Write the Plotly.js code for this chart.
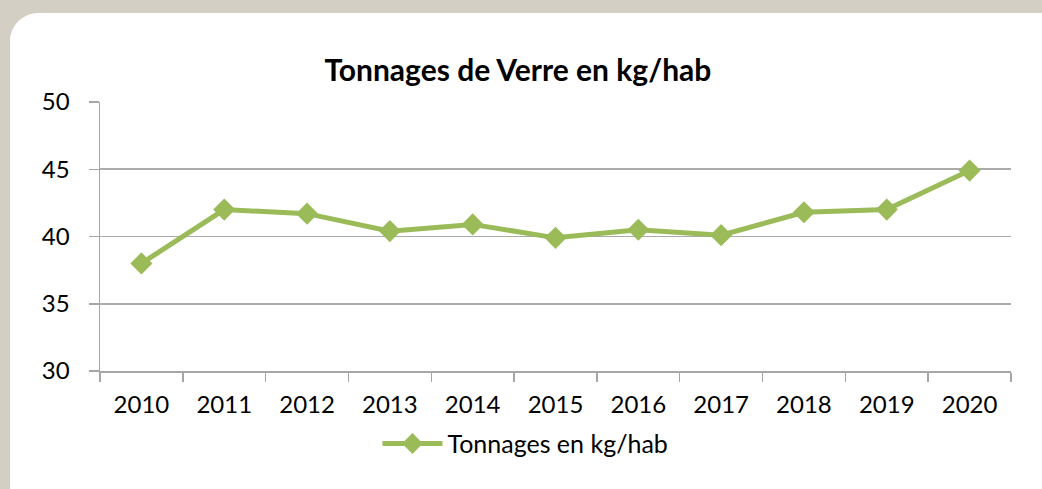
<!DOCTYPE html>
<html>
<head>
<meta charset="utf-8">
<script src="https://cdn.plot.ly/plotly-3.0.1.min.js"></script>
<style>
  html, body { margin:0; padding:0; width:1042px; height:489px; overflow:hidden; background:#d3cfc5; }
  #card { position:absolute; left:10px; top:13px; width:1060px; height:520px; background:#ffffff; border-radius:28px; }
  #chart { position:absolute; left:0; top:0; width:1042px; height:489px; }
</style>
</head>
<body>
<div id="card"></div>
<div id="chart"></div>
<script>
const years = ["2010","2011","2012","2013","2014","2015","2016","2017","2018","2019","2020"];
const tonnages = [38.0, 42.0, 41.7, 40.4, 40.9, 39.9, 40.5, 40.1, 41.8, 42.0, 44.9];
const seriesName = "Tonnages en kg/hab";
const chartTitle = "Tonnages de Verre en kg/hab";

const trace = {
  x: years,
  y: tonnages,
  name: seriesName,
  type: "scatter",
  mode: "lines+markers",
  line: { color: "#9bbb59", width: 5 },
  marker: { symbol: "diamond", size: 17, color: "#9bbb59" }
};

const layout = {
  width: 1042,
  height: 489,
  paper_bgcolor: "rgba(0,0,0,0)",
  plot_bgcolor: "rgba(0,0,0,0)",
  margin: { l: 100, r: 31, t: 102, b: 118 },
  font: { family: "Lato, 'Open Sans', sans-serif", color: "#000000", size: 24 },
  title: {
    text: "<b>" + chartTitle + "</b>",
    font: { family: "Lato, 'Open Sans', sans-serif", size: 30, color: "#000000" },
    x: 0.497, xanchor: "center",
    y: 0.855, yref: "container", yanchor: "middle"
  },
  xaxis: {
    type: "category",
    range: [-0.5, 10.5],
    showgrid: false,
    showline: true,
    linecolor: "#a6a6a6",
    linewidth: 1.5,
    ticks: "outside",
    tickson: "boundaries",
    ticklen: 9,
    tickcolor: "#a6a6a6",
    tickwidth: 1.5,
    tickfont: { size: 24 },
    ticklabelstandoff: 12,
    zeroline: false,
    fixedrange: true
  },
  yaxis: {
    range: [30, 50],
    dtick: 5,
    showgrid: true,
    gridcolor: "#ababab",
    gridwidth: 1.8,
    showline: true,
    linecolor: "#a6a6a6",
    linewidth: 1.5,
    ticks: "outside",
    ticklen: 10,
    tickcolor: "#a6a6a6",
    tickwidth: 1.5,
    tickfont: { size: 24 },
    ticklabelstandoff: 14,
    zeroline: false,
    fixedrange: true
  },
  showlegend: true,
  legend: {
    orientation: "h",
    x: 0.467, xanchor: "center",
    y: -0.185, yanchor: "top",
    font: { size: 25 },
    itemwidth: 60,
    bgcolor: "rgba(0,0,0,0)"
  }
};

Plotly.newPlot("chart", [trace], layout, { displayModeBar: false, staticPlot: true });
</script>
</body>
</html>
